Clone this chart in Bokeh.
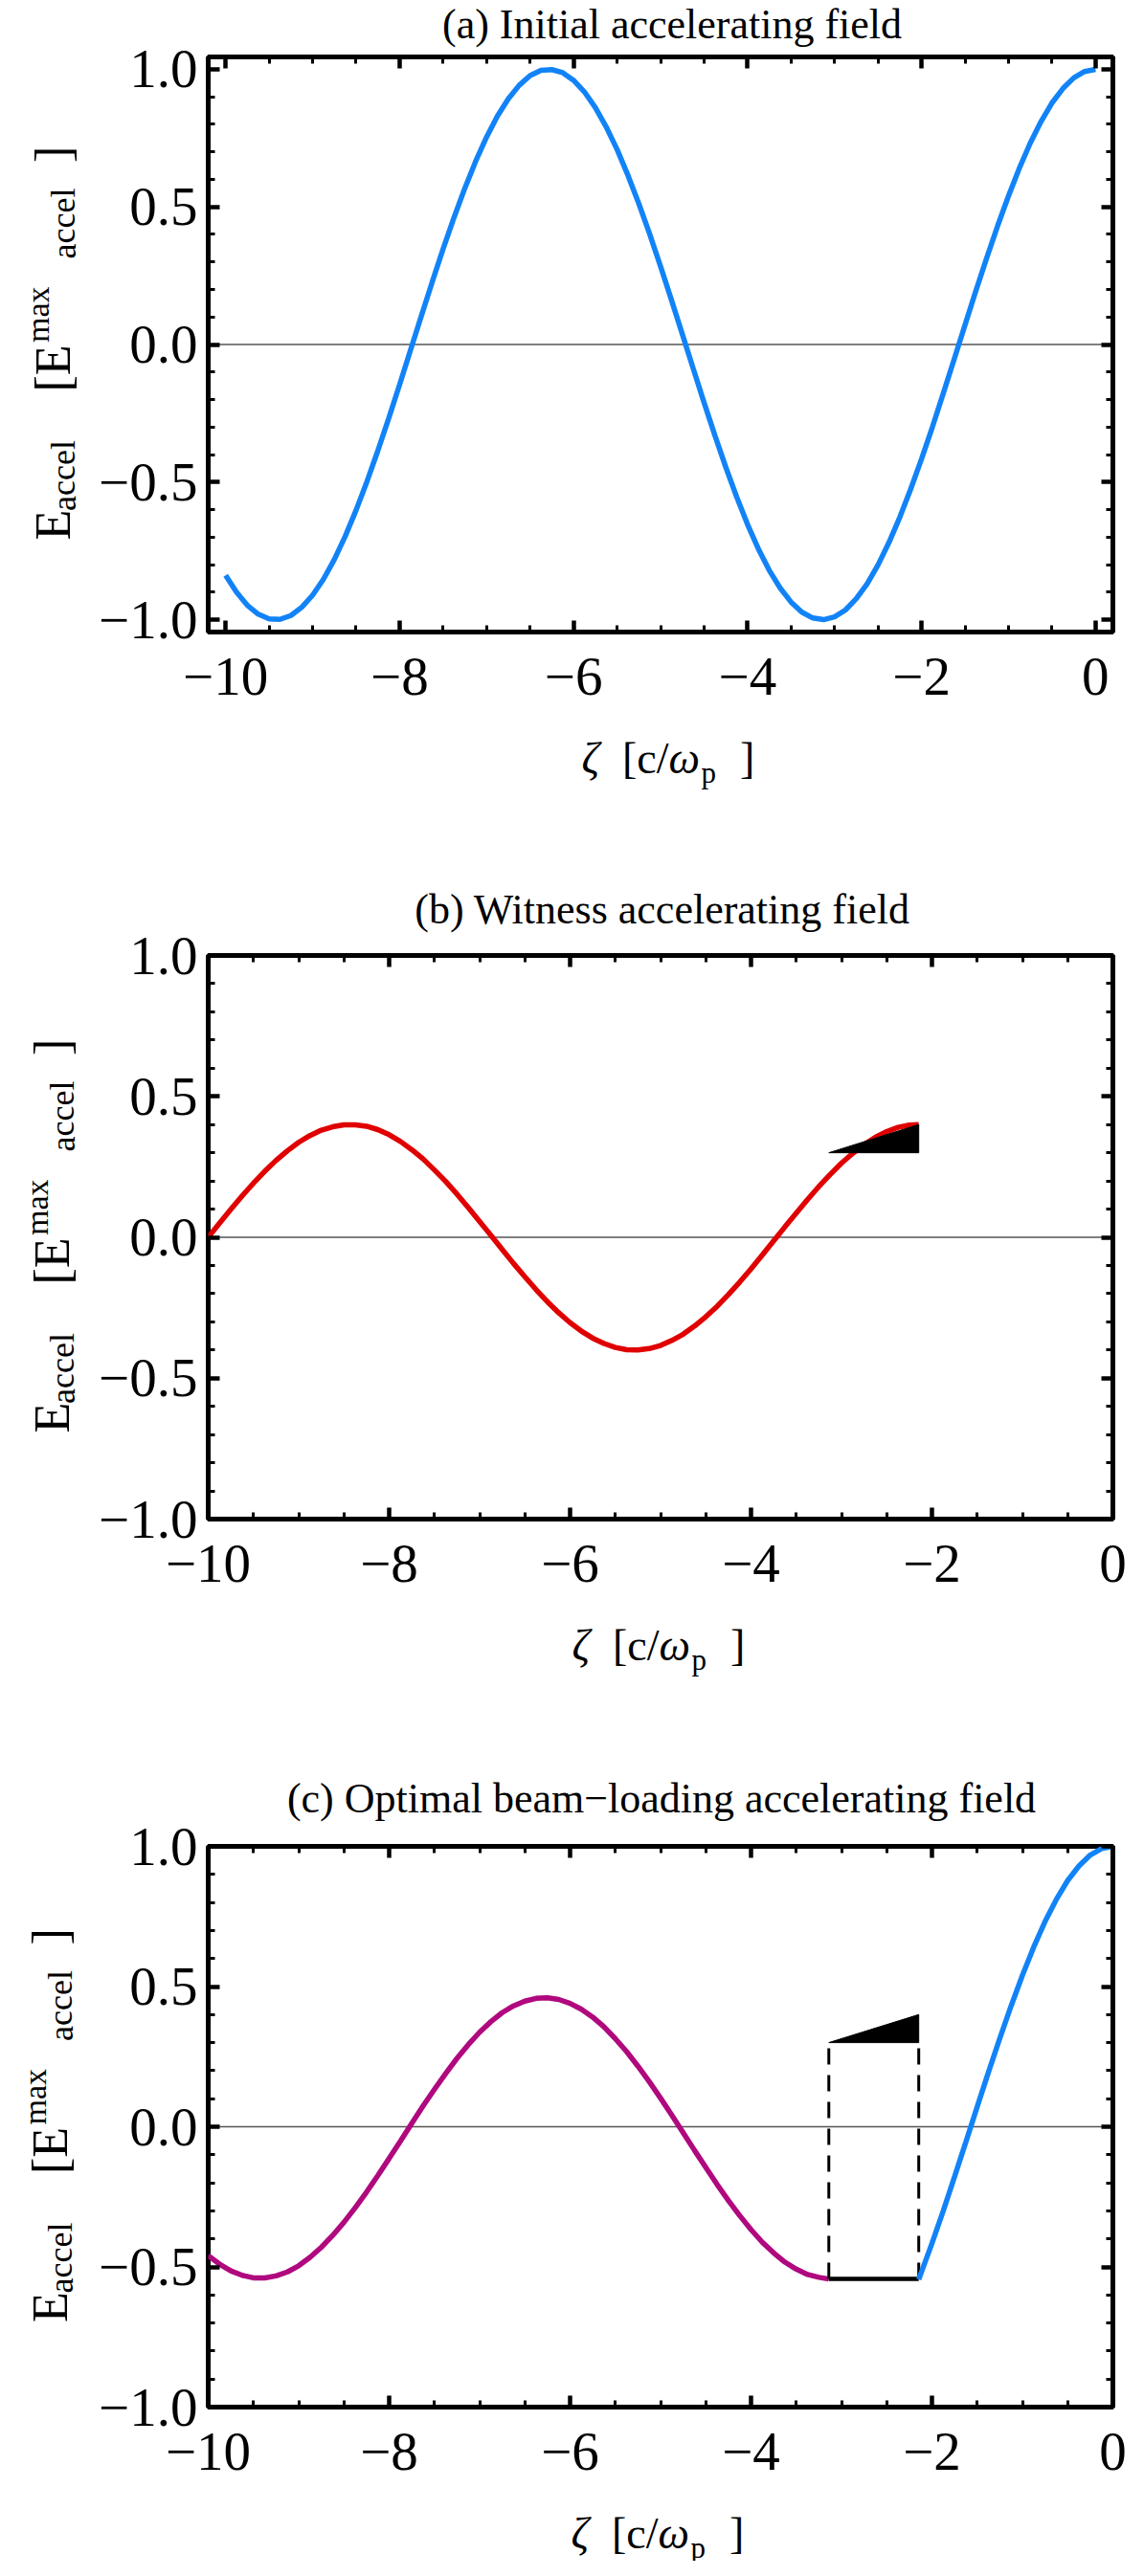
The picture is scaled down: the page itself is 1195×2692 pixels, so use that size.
from bokeh.plotting import figure
from bokeh.models import (Range1d, LinearAxis, FixedTicker, Span, ColumnDataSource,
                          CustomLabelingPolicy)
from bokeh.core.properties import value
from bokeh.layouts import column
from bokeh.embed import file_html
from bokeh.resources import INLINE

# ---- data ----
# (a) initial accelerating field
zeta_a = [-10.0, -9.875, -9.75, -9.625, -9.5, -9.375, -9.25, -9.125, -9.0, -8.875,
          -8.75, -8.625, -8.5, -8.375, -8.25, -8.125, -8.0, -7.875, -7.75, -7.625,
          -7.5, -7.375, -7.25, -7.125, -7.0, -6.875, -6.75, -6.625, -6.5, -6.375,
          -6.25, -6.125, -6.0, -5.875, -5.75, -5.625, -5.5, -5.375, -5.25, -5.125,
          -5.0, -4.875, -4.75, -4.625, -4.5, -4.375, -4.25, -4.125, -4.0, -3.875,
          -3.75, -3.625, -3.5, -3.375, -3.25, -3.125, -3.0, -2.875, -2.75, -2.625,
          -2.5, -2.375, -2.25, -2.125, -2.0, -1.875, -1.75, -1.625, -1.5, -1.375,
          -1.25, -1.125, -1.0, -0.875, -0.75, -0.625, -0.5, -0.375, -0.25, -0.125, 0.0]
field_a = [-0.839, -0.900, -0.948, -0.980, -0.997, -0.999, -0.985, -0.955, -0.911, -0.853,
           -0.781, -0.697, -0.602, -0.498, -0.386, -0.268, -0.146, -0.021, 0.104, 0.227,
           0.347, 0.461, 0.568, 0.666, 0.754, 0.830, 0.893, 0.942, 0.977, 0.996,
           0.999, 0.988, 0.960, 0.918, 0.861, 0.791, 0.709, 0.615, 0.512, 0.401,
           0.284, 0.162, 0.038, -0.087, -0.211, -0.331, -0.446, -0.554, -0.654, -0.743,
           -0.821, -0.885, -0.936, -0.973, -0.994, -1.000, -0.990, -0.965, -0.924, -0.870,
           -0.801, -0.720, -0.628, -0.526, -0.416, -0.300, -0.178, -0.054, 0.071, 0.195,
           0.315, 0.431, 0.540, 0.641, 0.732, 0.811, 0.878, 0.930, 0.969, 0.992, 1.000]

# (b) witness accelerating field
zeta_b = [-10.0, -9.875, -9.75, -9.625, -9.5, -9.375, -9.25, -9.125, -9.0, -8.875,
          -8.75, -8.625, -8.5, -8.375, -8.25, -8.125, -8.0, -7.875, -7.75, -7.625,
          -7.5, -7.375, -7.25, -7.125, -7.0, -6.875, -6.75, -6.625, -6.5, -6.375,
          -6.25, -6.125, -6.0, -5.875, -5.75, -5.625, -5.5, -5.375, -5.25, -5.125,
          -5.0, -4.875, -4.75, -4.625, -4.5, -4.375, -4.25, -4.125, -4.0, -3.875,
          -3.75, -3.625, -3.5, -3.375, -3.25, -3.125, -3.0, -2.875, -2.75, -2.625,
          -2.5, -2.375, -2.25, -2.146]
field_b = [0.000, 0.050, 0.099, 0.147, 0.192, 0.234, 0.273, 0.307, 0.337, 0.361,
           0.380, 0.392, 0.399, 0.399, 0.394, 0.382, 0.364, 0.340, 0.311, 0.278,
           0.239, 0.198, 0.153, 0.105, 0.056, 0.007, -0.043, -0.093, -0.140, -0.186,
           -0.229, -0.268, -0.303, -0.333, -0.358, -0.377, -0.391, -0.399, -0.400, -0.395,
           -0.384, -0.366, -0.344, -0.315, -0.282, -0.245, -0.203, -0.159, -0.112, -0.063,
           -0.013, 0.037, 0.086, 0.134, 0.180, 0.223, 0.263, 0.298, 0.329, 0.355,
           0.375, 0.390, 0.398, 0.400]

# (c) optimal beam-loading: wake behind the witness, flat part, driver front
zeta_c_tail = [-10.0, -9.875, -9.75, -9.625, -9.5, -9.375, -9.25, -9.125, -9.0, -8.875,
               -8.75, -8.625, -8.5, -8.375, -8.25, -8.125, -8.0, -7.875, -7.75, -7.625,
               -7.5, -7.375, -7.25, -7.125, -7.0, -6.875, -6.75, -6.625, -6.5, -6.375,
               -6.25, -6.125, -6.0, -5.875, -5.75, -5.625, -5.5, -5.375, -5.25, -5.125,
               -5.0, -4.875, -4.75, -4.625, -4.5, -4.375, -4.25, -4.125, -4.0, -3.875,
               -3.75, -3.625, -3.5, -3.375, -3.25, -3.14]
field_c_tail = [-0.460, -0.490, -0.514, -0.530, -0.539, -0.539, -0.532, -0.518, -0.496, -0.466,
                -0.430, -0.388, -0.341, -0.289, -0.233, -0.174, -0.113, -0.051, 0.012, 0.074,
                0.133, 0.190, 0.244, 0.293, 0.337, 0.375, 0.407, 0.431, 0.448, 0.458,
                0.460, 0.454, 0.440, 0.419, 0.391, 0.356, 0.314, 0.268, 0.216, 0.161,
                0.102, 0.041, -0.021, -0.084, -0.145, -0.206, -0.263, -0.317, -0.367, -0.412,
                -0.450, -0.483, -0.508, -0.527, -0.537, -0.543]
zeta_c_front = [-2.146, -2.125, -2.0, -1.875, -1.75, -1.625, -1.5, -1.375, -1.25, -1.125,
                -1.0, -0.875, -0.75, -0.625, -0.5, -0.375, -0.25, -0.125, 0.0]
field_c_front = [-0.545, -0.526, -0.416, -0.300, -0.178, -0.054, 0.071, 0.195, 0.315, 0.431,
                 0.540, 0.641, 0.732, 0.811, 0.878, 0.930, 0.969, 0.992, 1.000]
flat_zeta = [-3.14, -2.146]
flat_field = [-0.543, -0.543]

# witness bunch (triangular current profile)
beam_zeta = [-3.14, -2.146, -2.146]
beam_level = [0.30, 0.40, 0.30]

titles = ["(a) Initial accelerating field",
          "(b) Witness accelerating field",
          "(c) Optimal beam\u2212loading accelerating field"]
x_ticks = [-10, -8, -6, -4, -2, 0]
x_tick_labels = ["\u221210", "\u22128", "\u22126", "\u22124", "\u22122", "0"]
x_minor = [-9.5, -9, -8.5, -7.5, -7, -6.5, -5.5, -5, -4.5, -3.5, -3, -2.5, -1.5, -1, -0.5]
y_ticks = [-1.0, -0.5, 0.0, 0.5, 1.0]
y_tick_labels = ["\u22121.0", "\u22120.5", "0.0", "0.5", "1.0"]
y_minor = [-0.9, -0.8, -0.7, -0.6, -0.4, -0.3, -0.2, -0.1, 0.1, 0.2, 0.3, 0.4, 0.6, 0.7, 0.8, 0.9]

BLUE = "#1283f7"
RED = "#e00000"
MAGENTA = "#b0087e"
SERIF = "Liberation Serif"
UP = 1.5708  # rotate text to read bottom-to-top

NO_LABELS = "for (const i of indices) indices.unset(i); return indices"

# y label pieces: text, baseline x on the page, shift below the frame centre, font px
Y_LABEL = [("E", 60, 204.5, 52), ("accel", 71, 174, 36),
           ("[E", 60, 49.5, 52), ("max", 44, -2, 34),
           ("accel", 71, -89.5, 36), ("]", 60, -190, 52)]
# x label pieces: text, shift from the frame centre, baseline below the frame, px, style
X_LABEL = [("\u03b6", -94.5, 132, 46, "italic"),
           ("[c/", -52, 132, 46, "normal"),
           ("\u03c9", -3.5, 132, 46, "italic"),
           ("p", 30.5, 147, 31, "normal"),
           ("]", 71, 132, 46, "normal")]


def style_axis(ax, xdir, labels):
    ax.axis_line_color = None
    ax.major_tick_in = 12
    ax.major_tick_out = 0
    ax.minor_tick_in = 7
    ax.minor_tick_out = 0
    ax.major_tick_line_width = 4.5
    ax.minor_tick_line_width = 3
    ax.major_tick_line_color = "black"
    ax.minor_tick_line_color = "black"
    if xdir:
        ax.ticker = FixedTicker(ticks=x_ticks, minor_ticks=x_minor)
    else:
        ax.ticker = FixedTicker(ticks=y_ticks, minor_ticks=y_minor)
    if labels:
        ax.major_label_overrides = dict(zip(x_ticks, x_tick_labels)) if xdir \
            else dict(zip(y_ticks, y_tick_labels))
        ax.major_label_text_font = SERIF
        ax.major_label_text_font_size = "57px"
        ax.major_label_text_color = "black"
        ax.major_label_standoff = 27 if xdir else 11
    else:
        ax.major_label_policy = CustomLabelingPolicy(code=NO_LABELS)
        ax.major_label_standoff = 0


def make_panel(title, xr, yr, frame, fig_top, fig_h, rise):
    left, right, top, bottom = frame
    p = figure(width=1187, height=fig_h, x_range=Range1d(*xr), y_range=Range1d(*yr),
               output_backend="svg", toolbar_location=None,
               min_border_left=left - 8, min_border_right=1195 - right,
               min_border_top=top - fig_top, min_border_bottom=fig_top + fig_h - bottom)
    p.xgrid.visible = False
    p.ygrid.visible = False
    p.outline_line_color = "black"
    p.outline_line_width = 5
    p.background_fill_color = "white"
    p.border_fill_color = "white"
    style_axis(p.xaxis[0], True, True)
    style_axis(p.yaxis[0], False, True)
    top_ax = LinearAxis()
    style_axis(top_ax, True, False)
    p.add_layout(top_ax, "above")
    right_ax = LinearAxis()
    style_axis(right_ax, False, False)
    p.add_layout(right_ax, "right")
    p.add_layout(Span(location=0, dimension="width", line_color="#555555",
                      line_width=1.5, level="underlay"))

    W = right - left
    H = bottom - top
    # every text piece hangs off the frame's lower-left corner, offsets in pixels
    pieces = [(title, W / 2, -(H + rise), "44px", "normal", 0.0, "center")]
    for txt, xi, dy, size in Y_LABEL:
        pieces.append((txt, xi - left, dy - H / 2, f"{size}px", "normal", UP, "left"))
    for txt, dx, below, size, st in X_LABEL:
        pieces.append((txt, W / 2 + dx, below, f"{size}px", st, 0.0, "left"))
    src = ColumnDataSource(dict(
        x=[xr[0]] * len(pieces), y=[yr[0]] * len(pieces),
        text=[q[0] for q in pieces], dx=[q[1] for q in pieces], dy=[q[2] for q in pieces],
        size=[q[3] for q in pieces], style=[q[4] for q in pieces],
        angle=[q[5] for q in pieces], align=[q[6] for q in pieces]))
    p.text(x="x", y="y", text="text", x_offset="dx", y_offset="dy", angle="angle",
           text_font=value(SERIF), text_font_size="size", text_font_style="style",
           text_align="align", text_baseline="alphabetic", text_color="black",
           source=src, level="overlay")
    return p


pa = make_panel(titles[0], (-10.2, 0.2), (-1.045, 1.045), (222, 1191, 67, 668), 8, 872, 34)
pa.line(zeta_a, field_a, line_color=BLUE, line_width=5.5)

pb = make_panel(titles[1], (-10, 0), (-1, 1), (223, 1172, 1006, 1595), 880, 930, 48)
pb.line(zeta_b, field_b, line_color=RED, line_width=5.5)
pb.patch(beam_zeta, beam_level, fill_color="black", line_color="black", line_width=1)

pc = make_panel(titles[2], (-10, 0), (-1, 1), (225, 1172, 1937, 2523), 1810, 874, 50)
pc.line(zeta_c_tail, field_c_tail, line_color=MAGENTA, line_width=5.5)
pc.line(flat_zeta, flat_field, line_color="black", line_width=4.5)
pc.segment(x0=flat_zeta, y0=flat_field, x1=flat_zeta, y1=[beam_level[0], beam_level[2]],
           line_color="black", line_width=3, line_dash="17 11")
pc.line(zeta_c_front, field_c_front, line_color=BLUE, line_width=5.5)
pc.patch(beam_zeta, beam_level, fill_color="black", line_color="black", line_width=1)

layout = column(pa, pb, pc, spacing=0)
open("out.html", "w").write(file_html(layout, INLINE))
